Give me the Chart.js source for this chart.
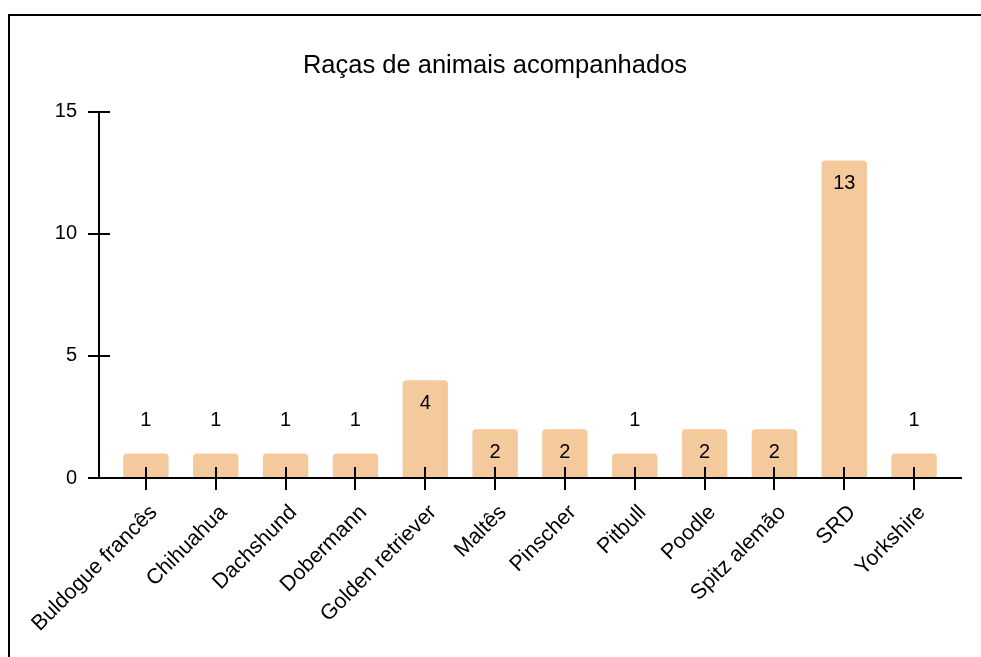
<!DOCTYPE html>
<html lang="pt-BR">
<head>
<meta charset="utf-8">
<title>Raças de animais acompanhados</title>
<script src="https://cdn.jsdelivr.net/npm/chart.js@4/dist/chart.umd.min.js"></script>
<style>
    html, body { margin: 0; padding: 0; background: #fff; overflow: hidden; }
    #moldura {
        position: absolute; left: 8px; top: 14px;
        width: 1200px; height: 900px;
        border-left: 2px solid #000; border-top: 2px solid #000;
        pointer-events: none;
    }
    #grafico { position: absolute; left: 0; top: 0; }
</style>
</head>
<body>
<canvas id="grafico" width="981" height="657"></canvas>
<div id="moldura"></div>
<script>
// Dados do gráfico
const racas = ['Buldogue francês', 'Chihuahua', 'Dachshund', 'Dobermann', 'Golden retriever',
    'Maltês', 'Pinscher', 'Pitbull', 'Poodle', 'Spitz alemão', 'SRD', 'Yorkshire'];
const quantidades = [1, 1, 1, 1, 4, 2, 2, 1, 2, 2, 13, 1];
const ticksY = [0, 5, 10, 15];

const FONTE = '"Liberation Sans", Arial, sans-serif';

// Eixos desenhados à mão, deslocados da área do gráfico
const eixosPlugin = {
    id: 'eixos',
    afterDatasetsDraw(chart) {
        const { ctx, chartArea, scales } = chart;
        const xEixo = chartArea.left - 12;
        const y0 = scales.y.getPixelForValue(0);
        const yTopo = scales.y.getPixelForValue(15);
        ctx.save();
        ctx.strokeStyle = '#000';
        ctx.lineWidth = 2;
        ctx.beginPath();
        ctx.moveTo(xEixo, yTopo);
        ctx.lineTo(xEixo, y0);
        ticksY.forEach(v => {
            const y = Math.round(scales.y.getPixelForValue(v));
            ctx.moveTo(xEixo - 11, y);
            ctx.lineTo(xEixo + 11, y);
        });
        ctx.moveTo(xEixo, y0);
        ctx.lineTo(chartArea.right + 13, y0);
        racas.forEach((r, i) => {
            const x = Math.round(scales.x.getPixelForValue(i));
            ctx.moveTo(x, y0 - 11);
            ctx.lineTo(x, y0 + 12);
        });
        ctx.stroke();
        ctx.restore();
    }
};

// Rótulos de valor: dentro da barra, ou acima quando a barra é baixa
const rotulosPlugin = {
    id: 'rotulos',
    afterDatasetsDraw(chart) {
        const { ctx } = chart;
        const meta = chart.getDatasetMeta(0);
        ctx.save();
        ctx.font = '20px ' + FONTE;
        ctx.fillStyle = '#000';
        ctx.textAlign = 'center';
        ctx.textBaseline = 'middle';
        meta.data.forEach((bar, i) => {
            const altura = bar.base - bar.y;
            const y = altura < 35 ? bar.y - 33 : bar.y + 23;
            ctx.fillText(String(quantidades[i]), bar.x, y);
        });
        ctx.restore();
    }
};

new Chart(document.getElementById('grafico'), {
    type: 'bar',
    data: {
        labels: racas,
        datasets: [{
            data: quantidades,
            backgroundColor: '#f4c99c',
            borderRadius: 4,
            barPercentage: 0.65,
            categoryPercentage: 1
        }]
    },
    options: {
        responsive: false,
        animation: false,
        layout: { padding: { left: 41, right: 32, top: 0, bottom: 0 } },
        plugins: {
            legend: { display: false },
            tooltip: { enabled: false },
            title: {
                display: true,
                text: 'Raças de animais acompanhados',
                color: '#000',
                font: { family: FONTE, size: 25.5, weight: 'normal' },
                padding: { top: 51, bottom: 30 }
            }
        },
        scales: {
            x: {
                grid: { display: false, drawTicks: false },
                border: { display: false },
                ticks: {
                    color: '#000',
                    font: { family: FONTE, size: 21.5 },
                    minRotation: 45,
                    maxRotation: 45,
                    padding: 22,
                    labelOffset: 8,
                    autoSkip: false
                },
                afterFit(scale) { scale.height = 179; }
            },
            y: {
                min: 0,
                max: 15,
                grid: { display: false, drawTicks: false },
                border: { display: false },
                ticks: {
                    stepSize: 5,
                    color: '#000',
                    font: { family: FONTE, size: 20 },
                    padding: 34
                },
                afterFit(scale) { scale.width = 70; }
            }
        }
    },
    plugins: [eixosPlugin, rotulosPlugin]
});
</script>
</body>
</html>
